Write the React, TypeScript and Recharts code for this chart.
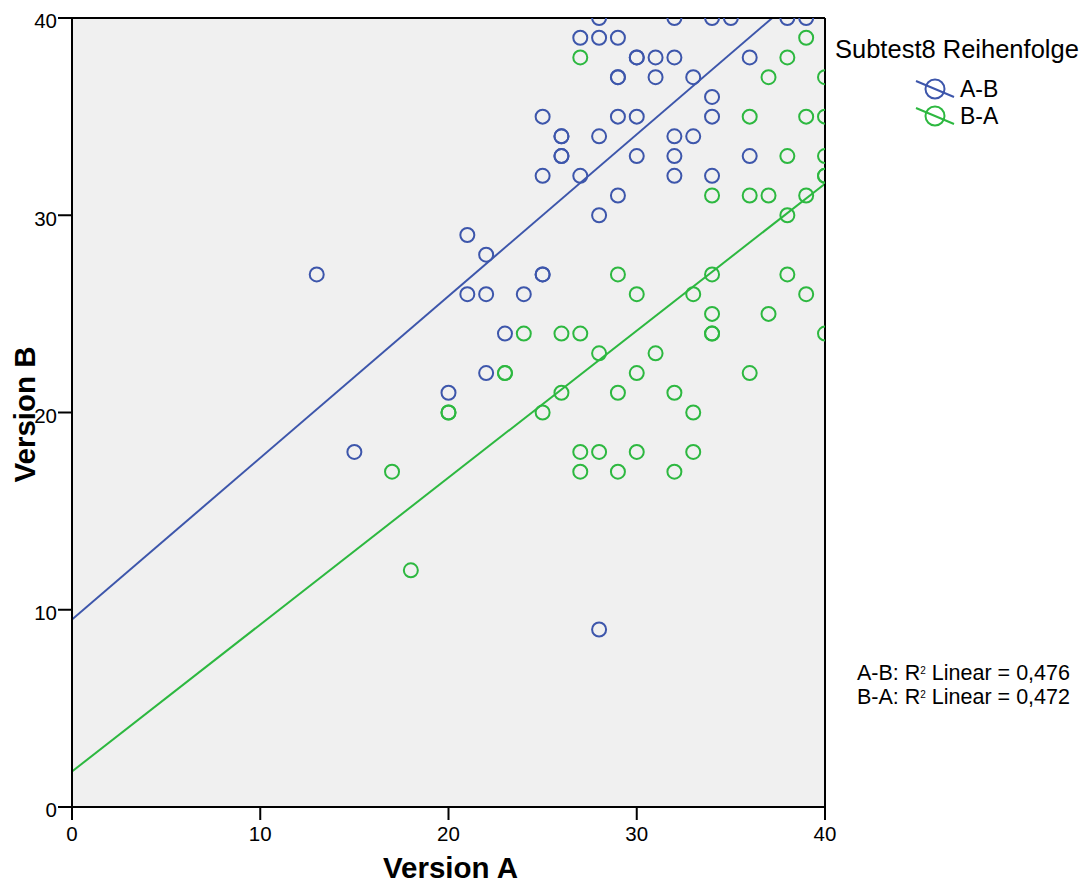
import { ScatterChart, Scatter, XAxis, YAxis, CartesianGrid, ReferenceLine, Label } from "recharts"

const FONT = "'Liberation Sans', Arial, sans-serif"
const BLUE = "#3d56ab"
const GREEN = "#2db840"

const axisTicks = [0, 10, 20, 30, 40]

// Subtest8 order A-B (scores on version A / version B)
const abVersionA = [
  28, 32, 34, 35, 38, 39, 27, 28, 29, 30, 30, 31, 32, 36, 29, 29, 31, 33, 34, 25, 29, 30, 34,
  26, 26, 28, 32, 33, 26, 26, 30, 32, 36, 25, 27, 32, 34, 29, 28, 21, 22, 13, 25, 25, 21, 22,
  24, 23, 22, 20, 15, 28,
]
const abVersionB = [
  40, 40, 40, 40, 40, 40, 39, 39, 39, 38, 38, 38, 38, 38, 37, 37, 37, 37, 36, 35, 35, 35, 35,
  34, 34, 34, 34, 34, 33, 33, 33, 33, 33, 32, 32, 32, 32, 31, 30, 29, 28, 27, 27, 27, 26, 26,
  26, 24, 22, 21, 18, 9,
]

// Subtest8 order B-A
const baVersionA = [
  39, 27, 38, 37, 40, 36, 39, 40, 38, 40, 40, 40, 34, 36, 37, 39, 38, 29, 34, 38, 30, 33, 39,
  34, 37, 24, 26, 27, 34, 34, 40, 28, 31, 23, 23, 30, 36, 26, 29, 32, 20, 20, 25, 33, 27, 28,
  30, 33, 17, 27, 29, 32, 18,
]
const baVersionB = [
  39, 38, 38, 37, 37, 35, 35, 35, 33, 33, 32, 32, 31, 31, 31, 31, 30, 27, 27, 27, 26, 26, 26,
  25, 25, 24, 24, 24, 24, 24, 24, 23, 23, 22, 22, 22, 22, 21, 21, 21, 20, 20, 20, 20, 18, 18,
  18, 18, 17, 17, 17, 17, 12,
]

// linear fit per group: [intercept, slope]
const abFit = [9.5, 0.82]
const baFit = [1.8, 0.745]

const seriesNames = ["A-B", "B-A"]
const seriesColors = [BLUE, GREEN]
const rSquared = ["0,476", "0,472"]

const toPoints = (xs: number[], ys: number[]) => xs.map((x, i) => ({ x, y: ys[i] }))
const abData = toPoints(abVersionA, abVersionB)
const baData = toPoints(baVersionA, baVersionB)

const fitSegment = (fit: number[]) => [
  { x: 0, y: fit[0] },
  { x: 40, y: fit[0] + fit[1] * 40 },
]

const ring = (color: string) => (props: any) => (
  <circle cx={props.cx} cy={props.cy} r={7} fill="none" stroke={color} strokeWidth={2} />
)

const XTitle = ({ viewBox }: any) => (
  <text
    x={viewBox.x + viewBox.width / 2 + 2}
    y={viewBox.y + 71}
    textAnchor="middle"
    fontFamily={FONT}
    fontSize={29.5}
    fontWeight="bold"
    fill="#000"
  >
    Version A
  </text>
)

const YTitle = ({ viewBox }: any) => (
  <text
    transform={`translate(35, ${viewBox.y + viewBox.height / 2 + 2}) rotate(-90)`}
    textAnchor="middle"
    fontFamily={FONT}
    fontSize={29.5}
    fontWeight="bold"
    fill="#000"
  >
    Version B
  </text>
)

function LegendBox() {
  return (
    <svg width={256} height={110} style={{ position: "absolute", left: 830, top: 30 }}>
      <text x={5} y={28} fontFamily={FONT} fontSize={25.5} fill="#000">
        Subtest8 Reihenfolge
      </text>
      {seriesNames.map((name, i) => {
        const cy = 59 + i * 27
        return (
          <g key={name}>
            <line x1={86} y1={cy - 8} x2={124} y2={cy + 8} stroke={seriesColors[i]} strokeWidth={2} />
            <circle cx={105} cy={cy} r={9.5} fill="none" stroke={seriesColors[i]} strokeWidth={2} />
            <text x={130} y={cy + 8} fontFamily={FONT} fontSize={23} fill="#000">
              {name}
            </text>
          </g>
        )
      })}
    </svg>
  )
}

function FitNote() {
  return (
    <div
      style={{
        position: "absolute",
        left: 857,
        top: 660,
        fontFamily: FONT,
        fontSize: 21.5,
        lineHeight: "21px",
        color: "#000",
        whiteSpace: "nowrap",
      }}
    >
      {seriesNames.map((name, i) => (
        <div key={name}>
          {name}: R<sup style={{ fontSize: 10, verticalAlign: "6px" }}>2</sup> Linear = {rSquared[i]}
        </div>
      ))}
    </div>
  )
}

export default function App() {
  return (
    <div
      style={{
        position: "absolute",
        left: 0,
        top: 0,
        width: 1086,
        height: 886,
        background: "#fff",
        fontFamily: FONT,
      }}
    >
      <ScatterChart width={1086} height={886} margin={{ top: 18, right: 261, bottom: 0, left: 0 }}>
        <CartesianGrid horizontal={false} vertical={false} fill="#f0f0f0" />
        <XAxis
          type="number"
          dataKey="x"
          domain={[0, 40]}
          ticks={axisTicks}
          allowDataOverflow
          height={79}
          tickSize={13}
          tickMargin={6}
          axisLine={{ stroke: "#000", strokeWidth: 2 }}
          tickLine={{ stroke: "#000", strokeWidth: 2 }}
          tick={{ fill: "#000", fontSize: 20.5, fontFamily: FONT }}
        >
          <Label content={XTitle} />
        </XAxis>
        <YAxis
          type="number"
          dataKey="y"
          domain={[0, 40]}
          ticks={axisTicks}
          allowDataOverflow
          width={72}
          tickSize={14}
          tickMargin={1}
          axisLine={{ stroke: "#000", strokeWidth: 2 }}
          tickLine={{ stroke: "#000", strokeWidth: 2 }}
          tick={{ fill: "#000", fontSize: 20.5, fontFamily: FONT, dy: 3 }}
        >
          <Label content={YTitle} />
        </YAxis>
        <Scatter data={abData} shape={ring(BLUE)} isAnimationActive={false} />
        <Scatter data={baData} shape={ring(GREEN)} isAnimationActive={false} />
        <ReferenceLine segment={fitSegment(abFit)} stroke={BLUE} strokeWidth={2} ifOverflow="hidden" />
        <ReferenceLine segment={fitSegment(baFit)} stroke={GREEN} strokeWidth={2} ifOverflow="hidden" />
        <ReferenceLine y={40} stroke="#000" strokeWidth={2} />
        <ReferenceLine x={40} stroke="#000" strokeWidth={2} />
      </ScatterChart>
      <LegendBox />
      <FitNote />
    </div>
  )
}
